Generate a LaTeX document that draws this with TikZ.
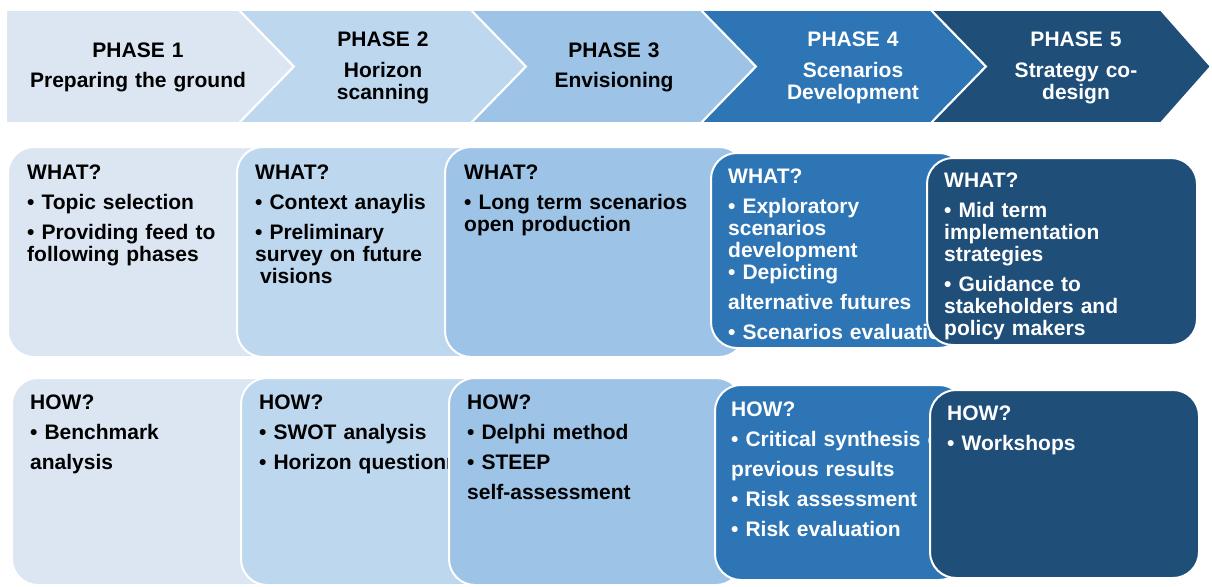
\documentclass[tikz,border=0pt]{standalone}
\usepackage{fontspec}
\setmainfont{Liberation Sans}
\definecolor{phA}{HTML}{DCE6F2}
\definecolor{phB}{HTML}{BDD7EE}
\definecolor{phC}{HTML}{9DC3E6}
\definecolor{phD}{HTML}{2E75B6}
\definecolor{phE}{HTML}{1F4E79}
\begin{document}
\begin{tikzpicture}[x=1pt,y=-1pt,
  chev/.style={draw=white,line width=2pt,line join=miter},
  card/.style={draw=white,line width=2pt,rounded corners=26pt},
  headtxt/.style={anchor=base,inner sep=0pt,text width=230pt,align=center,
    font=\fontsize{21}{22}\selectfont\bfseries},
  cardtxt/.style={anchor=base west,inner sep=0pt,text width=320pt,align=left,
    font=\fontsize{21}{22}\selectfont\bfseries}]
\useasboundingbox (0,0) rectangle (1212,586);

% ---- phase arrows ----
\path[chev,fill=phA] (6,10) -- (239,10) -- (294,66.5) -- (239,123) -- (6,123) -- cycle;
\path[chev,fill=phB] (239,10) -- (471,10) -- (526,66.5) -- (471,123) -- (239,123) -- (294,66.5) -- cycle;
\path[chev,fill=phC] (471,10) -- (701,10) -- (756,66.5) -- (701,123) -- (471,123) -- (526,66.5) -- cycle;
\path[chev,fill=phD] (701,10) -- (931,10) -- (986,66.5) -- (931,123) -- (701,123) -- (756,66.5) -- cycle;
\path[chev,fill=phE] (931,10) -- (1161,10) -- (1211,66.5) -- (1161,123) -- (931,123) -- (986,66.5) -- cycle;

\node[headtxt] (h1) at (138,58) {PHASE 1\\[8pt]Preparing the ground};
\node[headtxt] (h2) at (383,47) {PHASE 2\\[9pt]Horizon\\scanning};
\node[headtxt] (h3) at (614,58) {PHASE 3\\[8pt]Envisioning};
\node[headtxt,text=white] (h4) at (853,47) {PHASE 4\\[9pt]Scenarios\\Development};
\node[headtxt,text=white] (h5) at (1076,47) {PHASE 5\\[9pt]Strategy co-\\design};

% ---- WHAT row ----
\path[card,fill=phA] (8,147) rectangle (285,357);
\node[cardtxt] (w1) at (27,179) {WHAT?\\[8pt]• Topic selection\\[8pt]• Providing feed to\\following phases};
\path[card,fill=phB] (237,147) rectangle (490,357);
\node[cardtxt] (w2) at (255,179) {WHAT?\\[8pt]• Context anaylis\\[8pt]• Preliminary\\survey on future\\\hspace*{5pt}visions};
\path[card,fill=phC] (445,147) rectangle (745,357);
\node[cardtxt] (w3) at (464,179) {WHAT?\\[8pt]• Long term scenarios\\open production};
\path[card,fill=phD] (711,153) rectangle (965,348);
\node[cardtxt,text=white] (w4) at (728,183) {WHAT?\\[8pt]• Exploratory\\scenarios\\development\\• Depicting\\[8pt]alternative futures\\[8pt]• Scenarios evaluation};
\path[card,fill=phE] (927,158) rectangle (1197,345);
\node[cardtxt,text=white] (w5) at (944,187) {WHAT?\\[8pt]• Mid term\\implementation\\strategies\\[8pt]• Guidance to\\stakeholders and\\policy makers};

% ---- HOW row ----
\path[card,fill=phA] (12,378) rectangle (285,585);
\node[cardtxt] (m1) at (30,409) {HOW?\\[8pt]• Benchmark\\[8pt]analysis};
\path[card,fill=phB] (241,378) rectangle (490,585);
\begin{scope}
  \clip (241,378) rectangle (449,585);
  \node[cardtxt] (m2) at (259,409) {HOW?\\[8pt]• SWOT analysis\\[8pt]• Horizon questionn};
\end{scope}
\path[card,fill=phC] (449,378) rectangle (742,585);
\node[cardtxt] (m3) at (467,409) {HOW?\\[8pt]• Delphi method\\[8pt]• STEEP\\[8pt]self-assessment};
\path[card,fill=phD] (715,385) rectangle (965,580);
\node[cardtxt,text=white] (m4) at (731,416) {HOW?\\[8pt]• Critical synthesis of\\[8pt]previous results\\[8pt]• Risk assessment\\[8pt]• Risk evaluation};
\path[card,fill=phE] (930,390) rectangle (1199,578);
\node[cardtxt,text=white] (m5) at (947,420) {HOW?\\[8pt]• Workshops};
\end{tikzpicture}
\end{document}
